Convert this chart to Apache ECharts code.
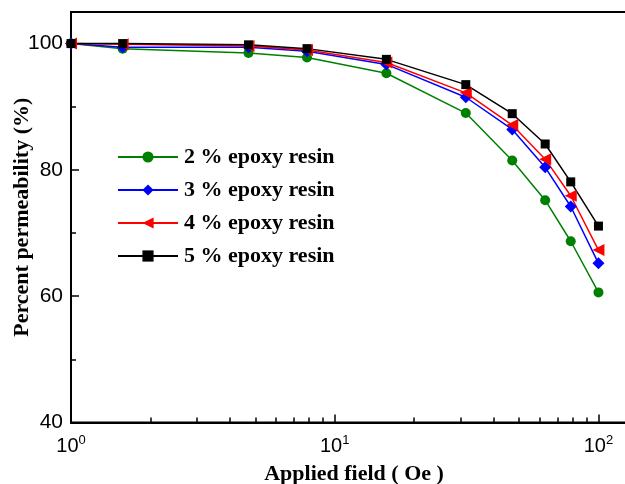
<!DOCTYPE html>
<html>
<head>
<meta charset="utf-8">
<script src="https://cdn.jsdelivr.net/npm/echarts@6/dist/echarts.min.js"></script>
<style>
  html, body { margin: 0; padding: 0; background: #fff; }
  #chart { width: 625px; height: 484px; }
</style>
</head>
<body>
<div id="chart"></div>
<script>
// applied field (Oe)
const fields = [1, 1.57, 4.71, 7.85, 15.7, 31.4, 47.1, 62.8, 78.5, 100];
// percent permeability for each epoxy content
const resin2 = [100, 99.2, 98.5, 97.8, 95.3, 89.0, 81.5, 75.2, 68.7, 60.6];
const resin3 = [100, 99.4, 99.4, 98.8, 96.7, 91.5, 86.4, 80.4, 74.2, 65.2];
const resin4 = [100, 99.9, 99.6, 99.0, 97.0, 92.2, 87.1, 81.7, 75.9, 67.3];
const resin5 = [100, 100, 99.8, 99.2, 97.5, 93.5, 88.9, 84.1, 78.1, 71.1];
const seriesNames = ["2 % epoxy resin", "3 % epoxy resin", "4 % epoxy resin", "5 % epoxy resin"];

const xMajorTicks = [1, 10, 100];
const xMinorTicks = [2, 3, 4, 5, 6, 7, 8, 9, 20, 30, 40, 50, 60, 70, 80, 90];
const yMajorTicks = [40, 60, 80, 100];
const yMinorTicks = [50, 70, 90];

const colors = ["#008000", "#0000ff", "#ff0000", "#000000"];
const symbols = ["circle", "diamond", "triangle", "rect"];
const symbolSizes = [10, 12, 12, 9];
const rotations = [0, 0, 90, 0];

const chart = echarts.init(document.getElementById("chart"));

const serif = "'Liberation Serif', 'Times New Roman', serif";
const sans = "'Liberation Sans', Arial, sans-serif";

const toPairs = (ys) => fields.map((x, i) => [x, ys[i]]);
const allData = [resin2, resin3, resin4, resin5];

const option = {
  animation: false,
  grid: {
    left: 71,
    right: -12,
    top: 12,
    bottom: 61.5,
    outerBoundsMode: "none",
    containLabel: false,
    show: true,
    borderColor: "#000",
    borderWidth: 2,
  },
  legend: {
    orient: "vertical",
    left: 112,
    top: 141,
    itemWidth: 60,
    itemHeight: 14,
    itemGap: 11,
    data: seriesNames,
    textStyle: {
      fontFamily: serif,
      fontWeight: "bold",
      fontSize: 22,
      color: "#000",
      padding: [0, 0, 0, 1],
    },
  },
  xAxis: [
    {
      type: "log",
      logBase: 10,
      min: 1,
      max: 140,
      name: "Applied field ( Oe )",
      nameLocation: "middle",
      nameGap: 41,
      nameMoveOverlap: false,
      nameTextStyle: { fontFamily: serif, fontWeight: "bold", fontSize: 22, color: "#000" },
      axisLine: { lineStyle: { color: "#000", width: 2 } },
      axisTick: { inside: true, length: 8, lineStyle: { color: "#000", width: 1.5 }, customValues: xMajorTicks },
      axisLabel: {
        customValues: xMajorTicks,
        margin: 11,
        color: "#000",
        formatter: (v) => "{base|10}{sup|" + Math.round(Math.log10(v)) + "}",
        rich: {
          base: { fontFamily: sans, fontSize: 20, lineHeight: 23, color: "#000", verticalAlign: "bottom" },
          sup: { fontFamily: sans, fontSize: 13, lineHeight: 13, color: "#000", verticalAlign: "top" },
        },
      },
      splitLine: { show: false },
    },
    {
      type: "log",
      logBase: 10,
      min: 1,
      max: 140,
      position: "bottom",
      axisLine: { show: false },
      axisTick: { inside: true, length: 5, lineStyle: { color: "#000", width: 1.5 }, customValues: xMinorTicks },
      axisLabel: { show: false },
      splitLine: { show: false },
    },
  ],
  yAxis: [
    {
      type: "value",
      min: 40,
      max: 105,
      interval: 20,
      name: "Percent permeability (%)",
      nameLocation: "middle",
      nameGap: 38,
      nameMoveOverlap: false,
      nameTextStyle: { fontFamily: serif, fontWeight: "bold", fontSize: 22, color: "#000" },
      axisLine: { show: true, lineStyle: { color: "#000", width: 2 } },
      axisTick: { show: true, inside: true, length: 8, lineStyle: { color: "#000", width: 1.5 }, customValues: yMajorTicks },
      axisLabel: { customValues: yMajorTicks, margin: 8, color: "#000", fontFamily: sans, fontSize: 21 },
      splitLine: { show: false },
    },
    {
      type: "value",
      min: 40,
      max: 105,
      position: "left",
      axisLine: { show: false },
      axisTick: { show: true, inside: true, length: 5, lineStyle: { color: "#000", width: 1.5 }, customValues: yMinorTicks },
      axisLabel: { show: false },
      splitLine: { show: false },
    },
  ],
  series: seriesNames.map((name, i) => ({
    name: name,
    type: "line",
    data: toPairs(allData[i]),
    symbol: symbols[i],
    symbolSize: symbolSizes[i],
    symbolRotate: rotations[i],
    showAllSymbol: true,
    color: colors[i],
    lineStyle: { color: colors[i], width: 1.5 },
    itemStyle: { color: colors[i] },
  })),
};

chart.setOption(option);
</script>
</body>
</html>
